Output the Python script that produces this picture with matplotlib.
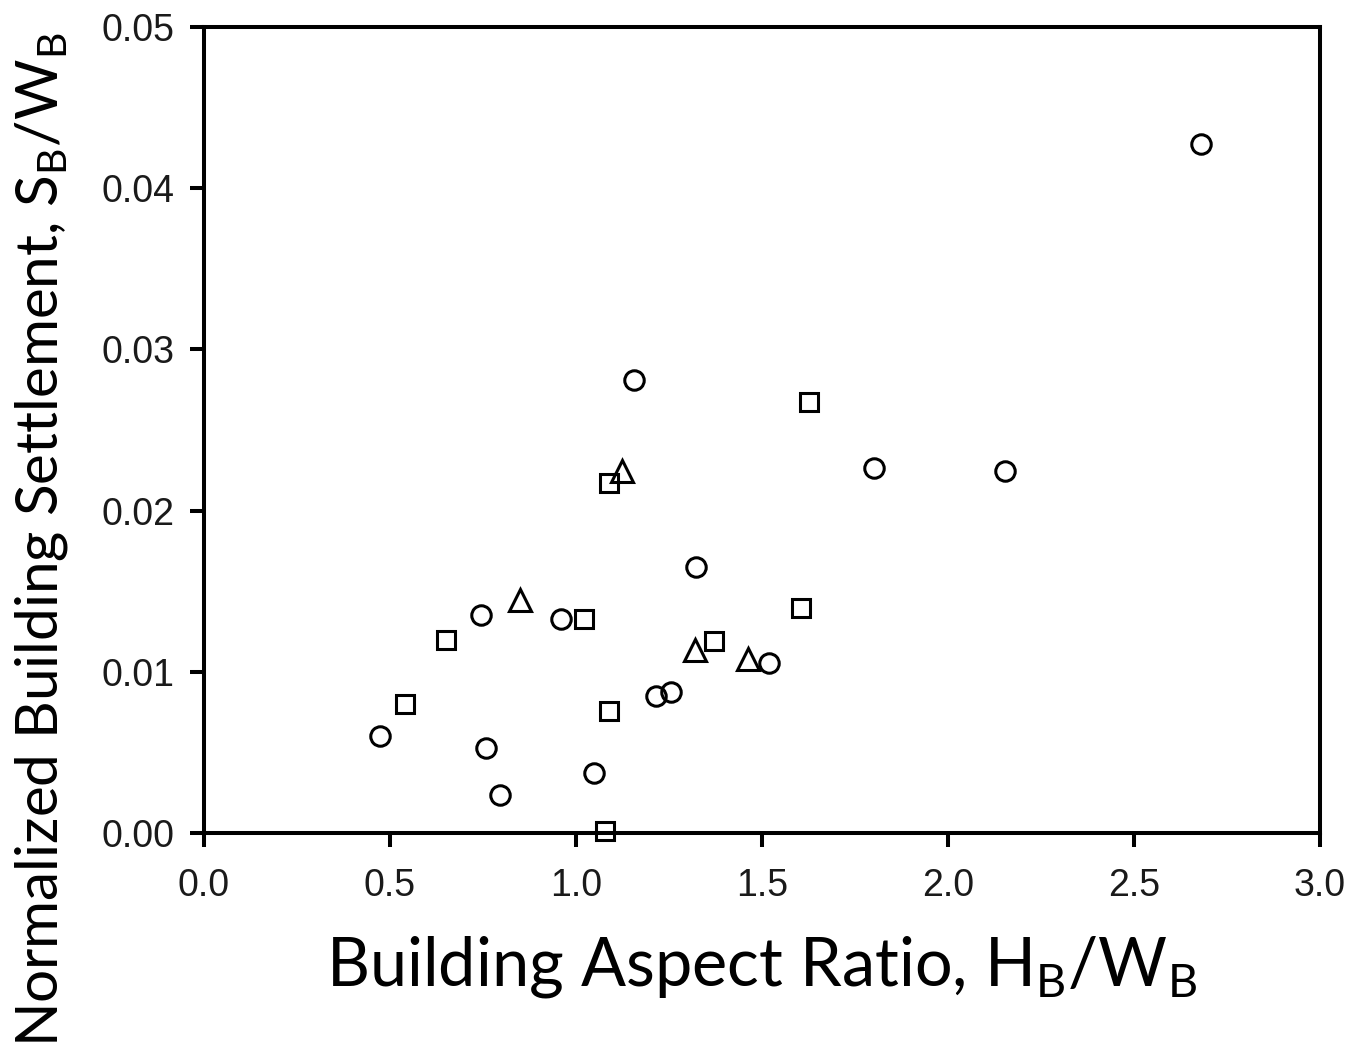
import matplotlib
matplotlib.use("Agg")
import matplotlib.pyplot as plt

# normalized settlement vs aspect ratio, three groups of case histories
circle_x = [0.473, 0.745, 0.758, 0.796, 0.960, 1.048, 1.156, 1.215, 1.255, 1.323, 1.519, 1.801, 2.153, 2.680]
circle_y = [0.0060, 0.01352, 0.00527, 0.00236, 0.01328, 0.00372, 0.0281, 0.0085, 0.00875, 0.0165, 0.01055, 0.02264, 0.02246, 0.04274]

square_x = [0.540, 0.651, 1.022, 1.078, 1.089, 1.089, 1.371, 1.605, 1.626]
square_y = [0.0080, 0.01197, 0.01328, 0.00012, 0.00757, 0.02171, 0.01191, 0.01396, 0.02674]

tri_x = [0.849, 1.124, 1.320, 1.462]
tri_y = [0.01445, 0.02246, 0.01135, 0.01079]

xticks = [0.0, 0.5, 1.0, 1.5, 2.0, 2.5, 3.0]
yticks = [0.00, 0.01, 0.02, 0.03, 0.04, 0.05]

LABEL_FONT = "Lato"
plt.rcParams["mathtext.fontset"] = "custom"
plt.rcParams["mathtext.rm"] = LABEL_FONT

fig = plt.figure(figsize=(13.5, 10.57), dpi=100)
ax = fig.add_axes([0.1511, 0.2119, 0.8267, 0.7626])

style = dict(linestyle="none", markerfacecolor="none", markeredgecolor="black",
             markeredgewidth=2.2, clip_on=False, zorder=5)
ax.plot(circle_x, circle_y, marker="o", markersize=14, **style)
ax.plot(square_x, square_y, marker="s", markersize=13.5, **style)
ax.plot(tri_x, tri_y, marker="^", markersize=15.5, **style)

ax.set_xlim(0, 3.0)
ax.set_ylim(0, 0.05)
ax.set_xticks(xticks)
ax.set_yticks(yticks)
ax.set_xticklabels([f"{v:.1f}" for v in xticks])
ax.set_yticklabels([f"{v:.2f}" for v in yticks])

for s in ax.spines.values():
    s.set_linewidth(2.9)
ax.tick_params(direction="out", length=10, width=2.9, labelsize=27)
ax.tick_params(axis="x", pad=15)
ax.tick_params(axis="y", pad=11)
for lab in ax.get_xticklabels() + ax.get_yticklabels():
    lab.set_family("Liberation Sans")
    lab.set_color("#1a1a1a")

ax.set_xlabel(r"Building Aspect Ratio, H$_\mathregular{B}$/W$_\mathregular{B}$",
              family=LABEL_FONT, fontsize=48, labelpad=22)
fig.text(0.031, 1 - 540 / 1057,
         r"Normalized Building Settlement, S$_\mathregular{B}$/W$_\mathregular{B}$",
         family=LABEL_FONT, fontsize=42, rotation=90, ha="center", va="center")

fig.savefig("out.png", dpi=100)
